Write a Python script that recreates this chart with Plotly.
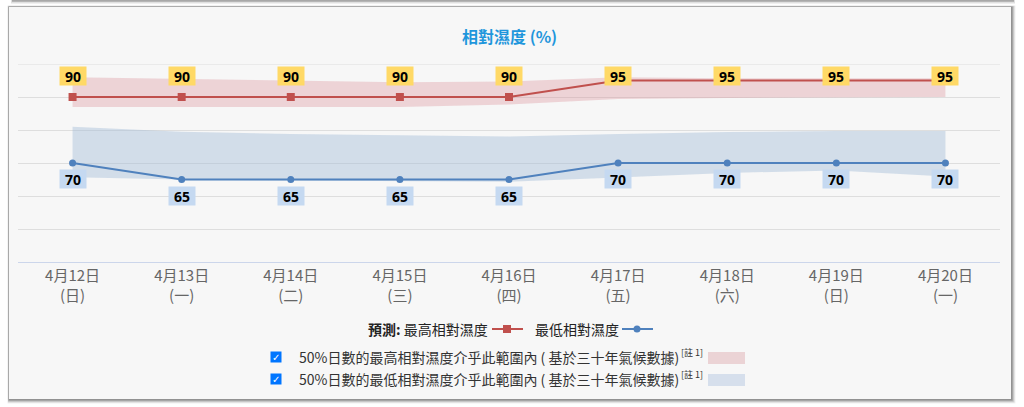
import plotly.graph_objects as go

# ---------------- data ----------------
dates = ["4月12日", "4月13日", "4月14日", "4月15日", "4月16日", "4月17日", "4月18日", "4月19日", "4月20日"]
weekdays = ["(日)", "(一)", "(二)", "(三)", "(四)", "(五)", "(六)", "(日)", "(一)"]
max_rh = [90, 90, 90, 90, 90, 95, 95, 95, 95]
min_rh = [70, 65, 65, 65, 65, 70, 70, 70, 70]
max_band_hi = [96, 95.5, 95, 94.5, 94.7, 96, 95.7, 95.7, 95.7]
max_band_lo = [87, 87, 87, 87, 87.7, 89.4, 89.7, 89.9, 90]
min_band_hi = [81, 79.5, 78.8, 78.5, 78, 78.8, 79.4, 79.7, 79.7]
min_band_lo = [65.7, 65, 64.7, 64.6, 64.3, 65.6, 67, 67.7, 65.9]

title_text = "相對濕度 (%)"
legend_prefix = "預測:"
max_name = "最高相對濕度"
min_name = "最低相對濕度"
band_max_text = "50%日數的最高相對濕度介乎此範圍內 ( 基於三十年氣候數據)"
band_min_text = "50%日數的最低相對濕度介乎此範圍內 ( 基於三十年氣候數據)"
note_text = "[註 1]"

# ---------------- layout constants ----------------
W, H = 1024, 407
ML, MR, MT, MB = 18, 24, 64, 145
PW, PH = W - ML - MR, H - MT - MB
YMIN, YMAX = 40, 100
UNIT = PH / (YMAX - YMIN)  # px per %

RED = "#c0504d"
BLUE = "#4f81bd"
RED_FILL = "rgba(215,130,140,0.30)"
BLUE_FILL = "rgba(160,185,215,0.42)"
CJK = "Noto Sans CJK TC"


def px(x):
    return (x - ML) / PW


def py(y):
    return (H - MB - y) / PH


fig = go.Figure()

# bands
fig.add_trace(go.Scatter(x=dates, y=max_band_hi, mode="lines", line=dict(width=0),
                         hoverinfo="skip", showlegend=False))
fig.add_trace(go.Scatter(x=dates, y=max_band_lo, mode="lines", line=dict(width=0),
                         fill="tonexty", fillcolor=RED_FILL, hoverinfo="skip", showlegend=False))
fig.add_trace(go.Scatter(x=dates, y=min_band_hi, mode="lines", line=dict(width=0),
                         hoverinfo="skip", showlegend=False))
fig.add_trace(go.Scatter(x=dates, y=min_band_lo, mode="lines", line=dict(width=0),
                         fill="tonexty", fillcolor=BLUE_FILL, hoverinfo="skip", showlegend=False))

# lines
fig.add_trace(go.Scatter(x=dates, y=max_rh, mode="lines+markers", name=max_name,
                         line=dict(color=RED, width=2),
                         marker=dict(symbol="square", size=8, color=RED), showlegend=False))
fig.add_trace(go.Scatter(x=dates, y=min_rh, mode="lines+markers", name=min_name,
                         line=dict(color=BLUE, width=2),
                         marker=dict(symbol="circle", size=7, color=BLUE), showlegend=False))

annotations = []
# data labels
label_top = YMAX - 12 / UNIT  # clamp label centre inside plot
for d, v in zip(dates, max_rh):
    yl = min(v + 21 / UNIT, label_top)
    annotations.append(dict(x=d, y=yl, xref="x", yref="y", xanchor="center", yanchor="middle",
                            text="<b>%d</b>" % v, showarrow=False,
                            font=dict(family="Noto Sans", size=14, color="#000"),
                            bgcolor="#ffd966", width=24, height=16, borderpad=1))
for d, v in zip(dates, min_rh):
    annotations.append(dict(x=d, y=v, xref="x", yref="y", yshift=-16, xanchor="center", yanchor="middle",
                            text="<b>%d</b>" % v, showarrow=False,
                            font=dict(family="Noto Sans", size=14, color="#000"),
                            bgcolor="#c5d9f1", width=24, height=16, borderpad=1))


def paper_text(x, y, text, size, color, xanchor="left", family=CJK):
    return dict(x=px(x), y=py(y), xref="paper", yref="paper", xanchor=xanchor, yanchor="middle",
                text=text, showarrow=False, font=dict(family=family, size=size, color=color))


# title
annotations.append(paper_text(510, 36, "<b>%s</b>" % title_text, 16, "#1f96dc", xanchor="center"))

# legend row 1
annotations.append(paper_text(366, 329, "<b>%s</b> %s" % (legend_prefix, max_name), 14, "#222"))
annotations.append(paper_text(533, 329, min_name, 14, "#222"))
# legend rows 2-3
for yrow, txt in ((357, band_max_text), (379, band_min_text)):
    annotations.append(paper_text(297, yrow, txt, 14, "#333"))
    annotations.append(paper_text(679, yrow - 5, note_text, 9, "#333"))
    annotations.append(paper_text(276, yrow, "✓", 10, "#ffffff", xanchor="center", family="DejaVu Sans"))

shapes = []
# page shadows and card
shapes.append(dict(type="rect", xref="paper", yref="paper", x0=px(11), x1=px(1015), y0=py(-4), y1=py(3.5),
                   fillcolor="rgba(0,0,0,0.12)", line=dict(width=0), layer="below"))
shapes.append(dict(type="rect", xref="paper", yref="paper", x0=px(12), x1=px(1014), y0=py(-4), y1=py(1.8),
                   fillcolor="rgba(0,0,0,0.25)", line=dict(width=0), layer="below"))
for off, op in ((4.5, 0.06), (3.5, 0.1), (2.5, 0.15), (1.5, 0.2)):
    shapes.append(dict(type="rect", xref="paper", yref="paper", x0=px(9 - off / 3), x1=px(1011 + off),
                       y0=py(399 + off), y1=py(7 - off / 3),
                       fillcolor="rgba(0,0,0,%g)" % op, line=dict(width=0), layer="below"))
shapes.append(dict(type="rect", xref="paper", yref="paper", x0=px(9), x1=px(1011), y0=py(399), y1=py(7),
                   fillcolor="#f7f7f7", line=dict(width=0), layer="below"))
# top gridline (at the range edge)
shapes.append(dict(type="line", xref="paper", yref="y", x0=0, x1=1, y0=YMAX, y1=YMAX,
                   line=dict(color="#dedede", width=1), layer="below"))

# legend symbols
shapes.append(dict(type="line", xref="paper", yref="paper", x0=px(492), x1=px(523), y0=py(329), y1=py(329),
                   line=dict(color=RED, width=2)))
shapes.append(dict(type="rect", xref="paper", yref="paper", x0=px(503), x1=px(511), y0=py(325), y1=py(333),
                   fillcolor=RED, line=dict(width=0)))
shapes.append(dict(type="line", xref="paper", yref="paper", x0=px(622), x1=px(653), y0=py(329), y1=py(329),
                   line=dict(color=BLUE, width=2)))
shapes.append(dict(type="circle", xref="paper", yref="paper", x0=px(633.5), x1=px(640.5), y0=py(325.5),
                   y1=py(332.5), fillcolor=BLUE, line=dict(width=0)))
# checkboxes and swatches
for yrow, sw in ((357, "#ebd3d5"), (379, "#d6dfec")):
    shapes.append(dict(type="rect", xref="paper", yref="paper", x0=px(270.5), x1=px(281.5), y0=py(yrow + 5.5),
                       y1=py(yrow - 5.5), fillcolor="#0075ff", line=dict(width=0)))
    shapes.append(dict(type="rect", xref="paper", yref="paper", x0=px(708), x1=px(745), y0=py(yrow + 7),
                       y1=py(yrow - 5), fillcolor=sw, line=dict(width=0)))

fig.update_layout(
    width=W, height=H,
    margin=dict(l=ML, r=MR, t=MT, b=MB),
    paper_bgcolor="#ffffff", plot_bgcolor="rgba(0,0,0,0)",
    showlegend=False,
    annotations=annotations, shapes=shapes,
    xaxis=dict(type="category", range=[-0.5, len(dates) - 0.5], tickmode="array",
               tickvals=dates, ticktext=["%s<br>%s" % (d, w) for d, w in zip(dates, weekdays)],
               showgrid=False, showline=True, linecolor="#ccd6eb", linewidth=1, ticks="",
               ticklabelstandoff=0,
               tickfont=dict(family=CJK, size=15, color="#666"), fixedrange=True),
    yaxis=dict(range=[YMIN, YMAX], dtick=10, showgrid=True, gridcolor="#dedede", gridwidth=1,
               showticklabels=False, zeroline=False, fixedrange=True),
)

fig.write_html("out.html")
